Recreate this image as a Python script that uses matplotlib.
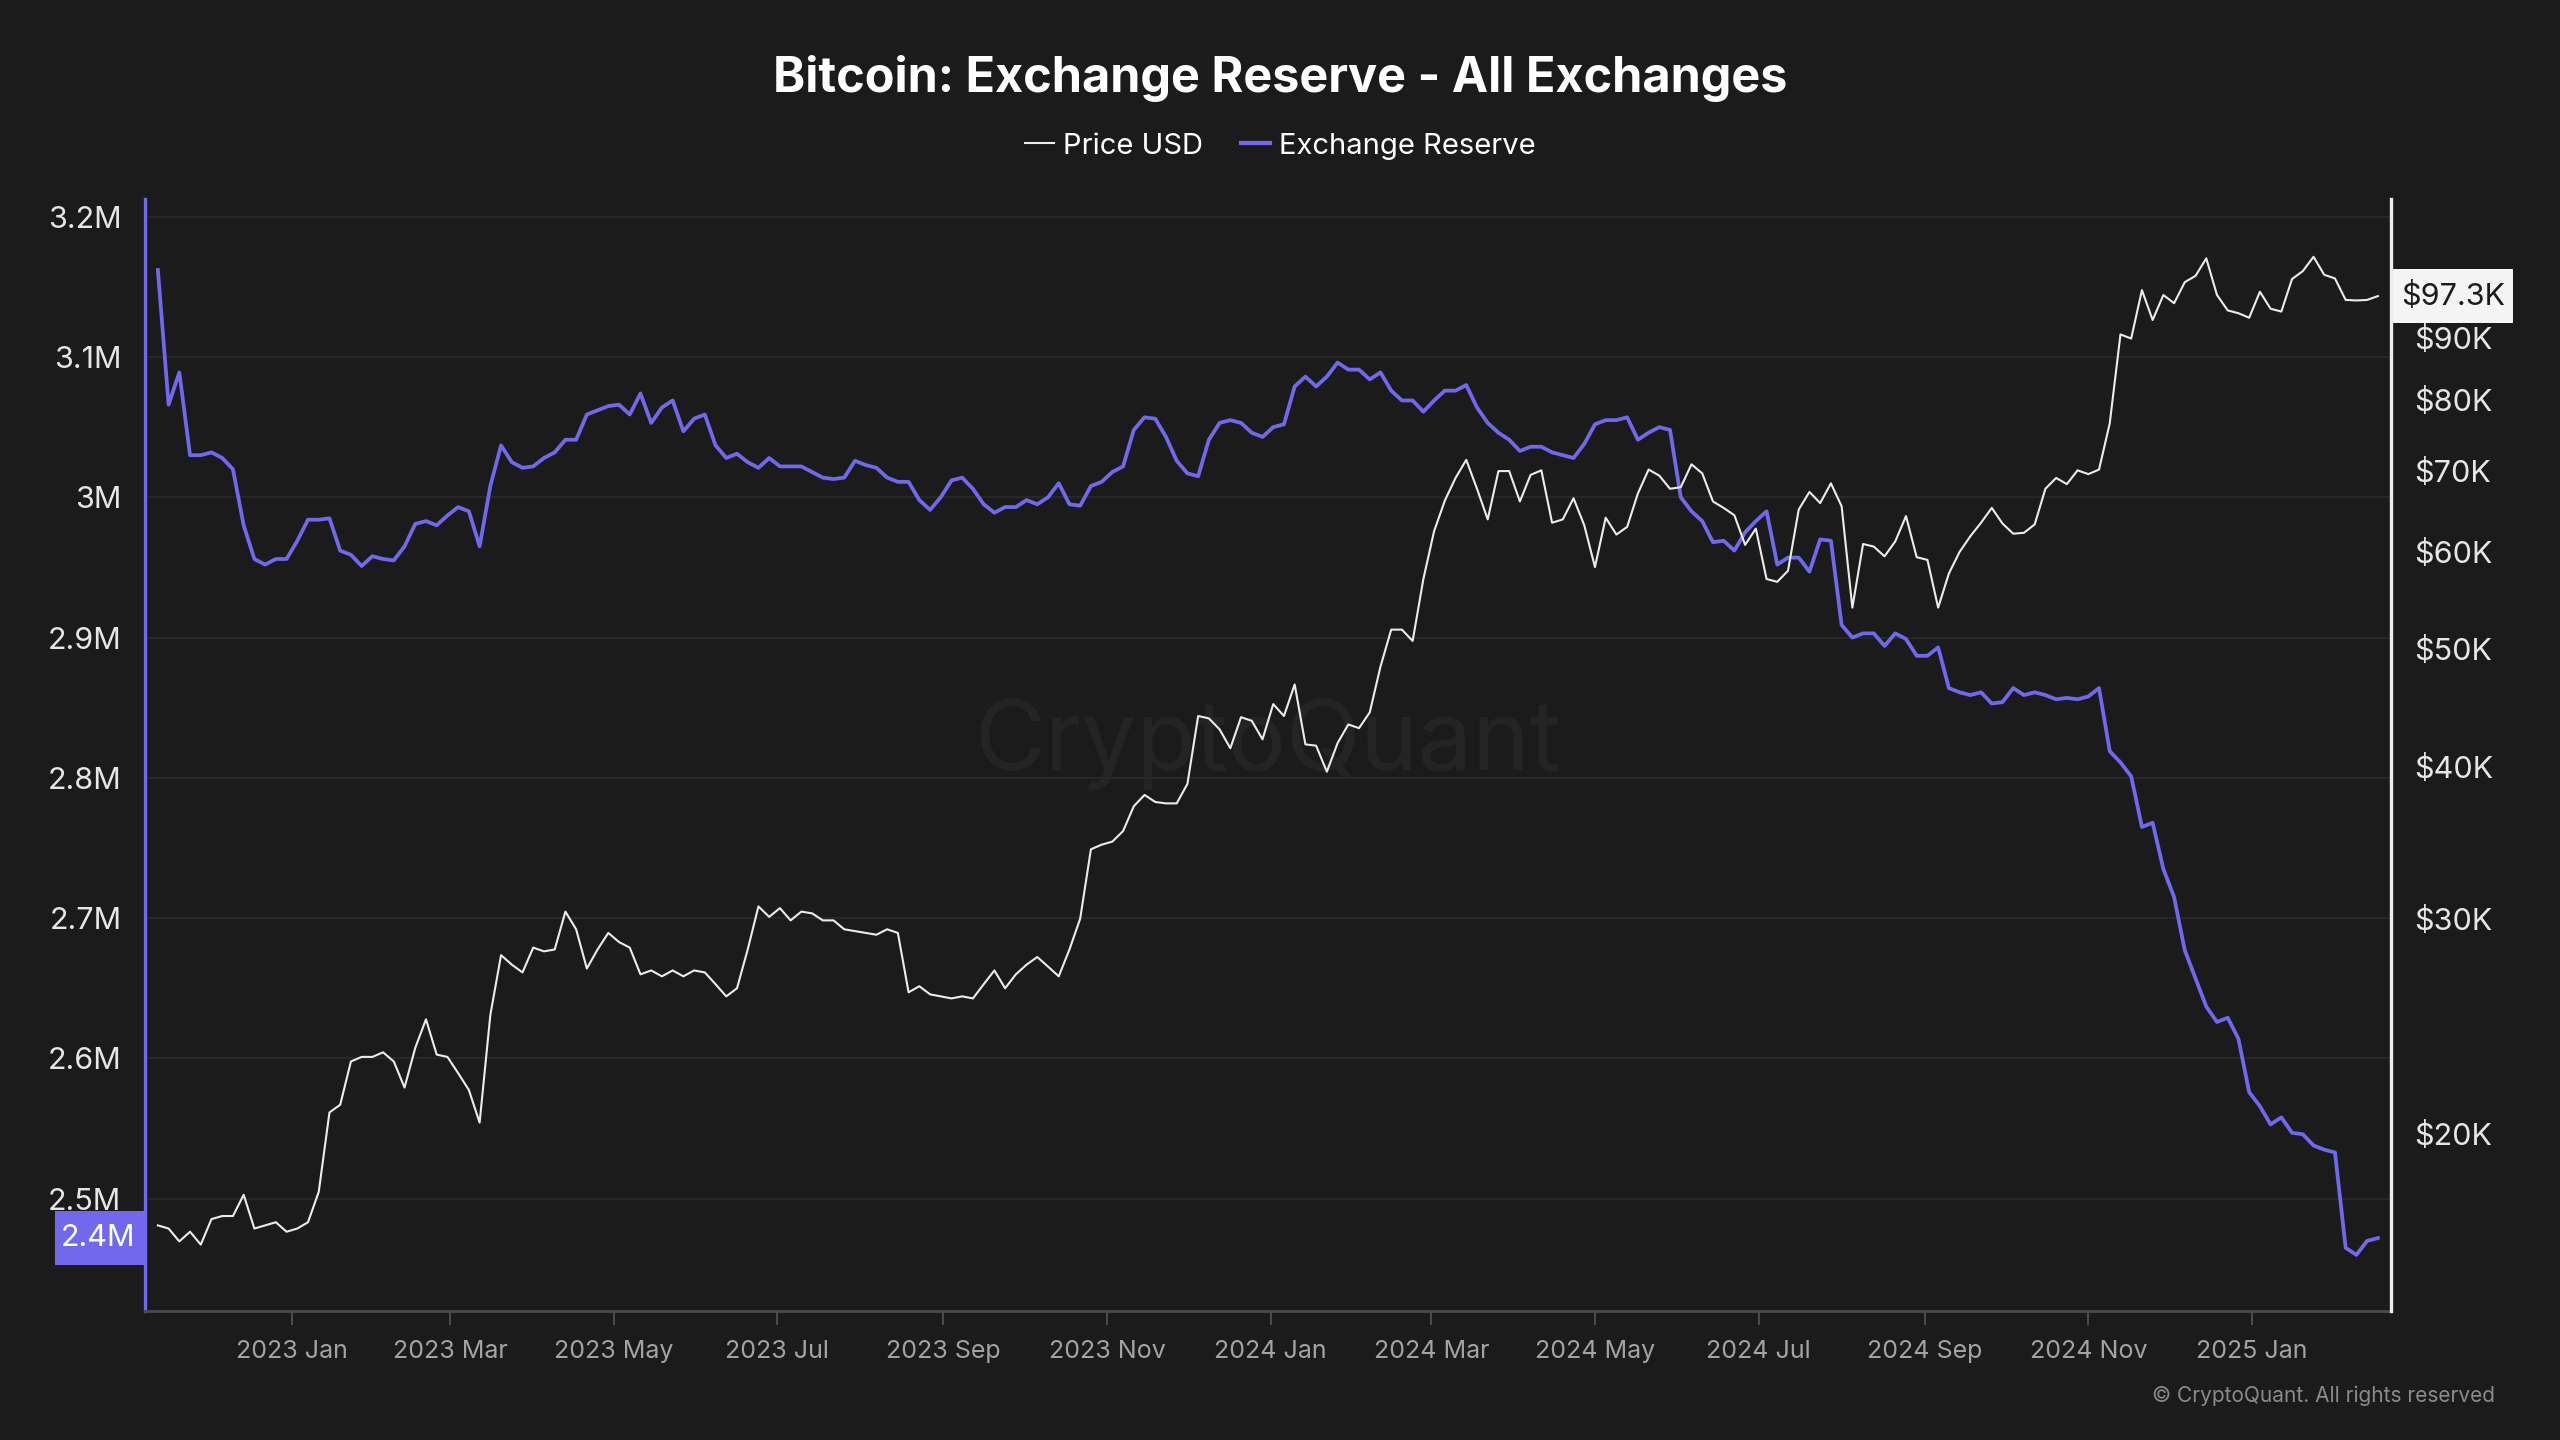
import numpy as np
import pandas as pd
import matplotlib
matplotlib.use("Agg")
import matplotlib.pyplot as plt
import matplotlib.dates as mdates
import matplotlib.transforms as mtransforms
from matplotlib.lines import Line2D
from matplotlib.patches import Rectangle
from matplotlib.ticker import FixedLocator, NullLocator

plt.rcParams['font.family'] = ['Inter', 'DejaVu Sans']

# values every 4 days, 2022-11-12 .. 2025-02-17
dates = pd.date_range("2022-11-12", periods=208, freq="4D")

# exchange reserve, million BTC
reserve_m = [
    3.162, 3.066, 3.089, 3.030, 3.030, 3.032, 3.028, 3.020, 2.980, 2.956,
    2.952, 2.956, 2.956, 2.969, 2.984, 2.984, 2.985, 2.962, 2.959, 2.951,
    2.958, 2.956, 2.955, 2.965, 2.981, 2.983, 2.980, 2.987, 2.993, 2.990,
    2.965, 3.008, 3.037, 3.025, 3.021, 3.022, 3.028, 3.032, 3.041, 3.041,
    3.059, 3.062, 3.065, 3.066, 3.059, 3.074, 3.053, 3.064, 3.069, 3.047,
    3.056, 3.059, 3.037, 3.028, 3.031, 3.025, 3.021, 3.028, 3.022, 3.022,
    3.022, 3.018, 3.014, 3.013, 3.014, 3.026, 3.023, 3.021, 3.014, 3.011,
    3.011, 2.998, 2.991, 3.000, 3.012, 3.014, 3.006, 2.995, 2.989, 2.993,
    2.993, 2.998, 2.995, 3.000, 3.010, 2.995, 2.994, 3.008, 3.011, 3.018,
    3.022, 3.048, 3.057, 3.056, 3.043, 3.026, 3.017, 3.015, 3.041, 3.053,
    3.055, 3.053, 3.046, 3.043, 3.050, 3.052, 3.079, 3.086, 3.079, 3.086,
    3.096, 3.091, 3.091, 3.084, 3.089, 3.076, 3.069, 3.069, 3.061, 3.069,
    3.076, 3.076, 3.080, 3.064, 3.053, 3.046, 3.041, 3.033, 3.036, 3.036,
    3.032, 3.030, 3.028, 3.038, 3.052, 3.055, 3.055, 3.057, 3.041, 3.046,
    3.050, 3.048, 3.000, 2.990, 2.983, 2.968, 2.969, 2.962, 2.975, 2.983,
    2.990, 2.952, 2.957, 2.957, 2.947, 2.970, 2.969, 2.909, 2.900, 2.903,
    2.903, 2.894, 2.903, 2.899, 2.887, 2.887, 2.893, 2.864, 2.861, 2.859,
    2.861, 2.853, 2.854, 2.864, 2.859, 2.861, 2.859, 2.856, 2.857, 2.856,
    2.858, 2.864, 2.819, 2.811, 2.801, 2.765, 2.768, 2.735, 2.715, 2.677,
    2.657, 2.637, 2.626, 2.629, 2.614, 2.576, 2.566, 2.553, 2.558, 2.547,
    2.546, 2.538, 2.535, 2.533, 2.465, 2.460, 2.470, 2.472,
]

# BTC price, thousand USD
price_k = [
    16.8, 16.7, 16.3, 16.6, 16.2, 17.0, 17.1, 17.1, 17.8, 16.7,
    16.8, 16.9, 16.6, 16.7, 16.9, 17.9, 20.8, 21.1, 22.9, 23.1,
    23.1, 23.3, 22.9, 21.8, 23.5, 24.8, 23.2, 23.1, 22.4, 21.7,
    20.4, 25.0, 28.0, 27.5, 27.1, 28.4, 28.2, 28.3, 30.4, 29.4,
    27.3, 28.3, 29.2, 28.7, 28.4, 27.0, 27.2, 26.9, 27.2, 26.9,
    27.2, 27.1, 26.5, 25.9, 26.3, 28.3, 30.7, 30.1, 30.6, 29.9,
    30.4, 30.3, 29.9, 29.9, 29.4, 29.3, 29.2, 29.1, 29.4, 29.2,
    26.1, 26.4, 26.0, 25.9, 25.8, 25.9, 25.8, 26.5, 27.2, 26.3,
    27.0, 27.5, 27.9, 27.4, 26.9, 28.3, 30.0, 34.2, 34.5, 34.7,
    35.4, 37.1, 37.9, 37.4, 37.3, 37.3, 38.7, 44.0, 43.8, 42.9,
    41.4, 43.9, 43.6, 42.1, 45.0, 44.0, 46.7, 41.7, 41.6, 39.6,
    41.8, 43.3, 43.0, 44.3, 48.3, 51.8, 51.8, 50.7, 57.0, 62.4,
    66.1, 69.0, 71.4, 67.6, 63.8, 69.9, 69.9, 66.0, 69.4, 70.0,
    63.4, 63.8, 66.4, 63.1, 58.3, 64.0, 62.0, 62.9, 67.0, 70.1,
    69.3, 67.6, 67.8, 70.8, 69.6, 66.0, 65.2, 64.3, 60.8, 62.7,
    57.0, 56.7, 57.9, 65.0, 67.2, 65.8, 68.3, 65.4, 54.0, 60.9,
    60.6, 59.5, 61.2, 64.2, 59.4, 59.1, 54.0, 57.6, 60.0, 61.8,
    63.4, 65.2, 63.3, 62.1, 62.2, 63.2, 67.6, 69.0, 68.2, 70.0,
    69.5, 70.1, 76.5, 90.5, 89.8, 98.4, 93.0, 97.5, 96.0, 99.9,
    101.1, 104.5, 97.5, 94.7, 94.2, 93.4, 98.1, 95.0, 94.5, 100.5,
    102.0, 104.8, 101.3, 100.6, 96.6, 96.5, 96.6, 97.3,
]

reserve_ticks = [2.5, 2.6, 2.7, 2.8, 2.9, 3.0, 3.1, 3.2]
price_ticks = [20, 30, 40, 50, 60, 70, 80, 90]

BG = '#1b1b1b'
PURPLE = '#7168ee'
WHITE = '#ececec'
W, H = 2560, 1440

reserve = np.array(reserve_m) * 1e6
price = np.array(price_k) * 1e3

fig = plt.figure(figsize=(W / 100, H / 100), dpi=100, facecolor=BG)
ax = fig.add_axes([145 / W, 1 - 1311 / H, (2391 - 145) / W, (1311 - 199) / H])
ax.set_facecolor(BG)
ax2 = ax.twinx()

ax.plot(dates, reserve, color=PURPLE, lw=2.7, zorder=3)
ax2.plot(dates, price, color=WHITE, lw=1.5, zorder=3)

t0 = pd.Timestamp("2023-01-01")
ax.set_xlim(t0 - pd.Timedelta(days=54.8), t0 + pd.Timedelta(days=782.9))
ax.set_ylim(2.420e6, 3.2126e6)
ax2.set_yscale('log')
ax2.set_ylim(14290, 116900)

ax.yaxis.set_major_locator(FixedLocator([v * 1e6 for v in reserve_ticks]))
ax.set_yticklabels([f"{v:g}M" for v in reserve_ticks])
ax2.yaxis.set_major_locator(FixedLocator([v * 1e3 for v in price_ticks]))
ax2.yaxis.set_minor_locator(NullLocator())
ax2.set_yticklabels([f"${v}K" for v in price_ticks])

ax.xaxis.set_major_locator(mdates.MonthLocator(bymonth=[1, 3, 5, 7, 9, 11]))
ax.xaxis.set_major_formatter(mdates.DateFormatter("%Y %b"))

ax.grid(axis='y', color='#2a2a2a', lw=1.2, zorder=0)
ax.grid(axis='x', visible=False)

ax.tick_params(axis='y', length=0, pad=17, labelsize=22, labelcolor='#e6e6e6')
ax.tick_params(axis='x', length=10, width=1.2, color='#555555', pad=11,
               labelsize=18, labelcolor='#a3a3a3')
ax2.tick_params(axis='y', length=0, pad=17, labelsize=22, labelcolor='#e6e6e6')

for s in ['top', 'right']:
    ax.spines[s].set_visible(False)
ax.spines['left'].set_color(PURPLE)
ax.spines['left'].set_linewidth(2.4)
ax.spines['bottom'].set_color('#4a4a4a')
ax.spines['bottom'].set_linewidth(2)
for s in ['top', 'left', 'bottom']:
    ax2.spines[s].set_visible(False)
ax2.spines['right'].set_color(WHITE)
ax2.spines['right'].set_linewidth(2.4)

# last-value tags on both axes
last_res = reserve[-1]
y_res = ax.transData.transform((0, last_res))[1]
fig.patches.append(Rectangle((55 / W, (y_res - 27) / H), 89 / W, 54 / H,
                             transform=fig.transFigure, fc=PURPLE, ec='none', zorder=9))
fig.text(135 / W, y_res / H, f"{int(last_res / 1e5) / 10:g}M", ha='right', va='center',
         fontsize=22, color='white', zorder=10)

last_px = price[-1]
y_px = ax2.transData.transform((0, last_px))[1]
fig.patches.append(Rectangle((2393 / W, (y_px - 27) / H), 120 / W, 54 / H,
                             transform=fig.transFigure, fc='#f4f4f4', ec='none', zorder=9))
fig.text(2401 / W, y_px / H, f"${last_px / 1e3:.1f}K", ha='left', va='center',
         fontsize=22, color='#1b1b1b', zorder=10)

# watermark
ax.text(0.5, 0.51, "CryptoQuant", transform=ax.transAxes, ha='center', va='center',
        fontsize=70, color='#ffffff', alpha=0.045, zorder=1)

fig.text(0.5, 1 - 78 / H, "Bitcoin: Exchange Reserve - All Exchanges",
         ha='center', va='center', fontsize=35, fontweight='bold', color='white')

handles = [Line2D([], [], color=WHITE, lw=1.5), Line2D([], [], color=PURPLE, lw=3)]
fig.legend(handles, ["Price USD", "Exchange Reserve"], loc='center',
           bbox_to_anchor=(0.5, 1 - 146 / H), ncol=2, frameon=False,
           fontsize=21, labelcolor='white', handlelength=1.0, handletextpad=0.3,
           columnspacing=1.3)

fig.text(2495 / W, 1 - 1396 / H, "© CryptoQuant. All rights reserved",
         ha='right', va='center', fontsize=15, color='#8a8a8a')

fig.savefig("out.png", dpi=100, facecolor=BG)
